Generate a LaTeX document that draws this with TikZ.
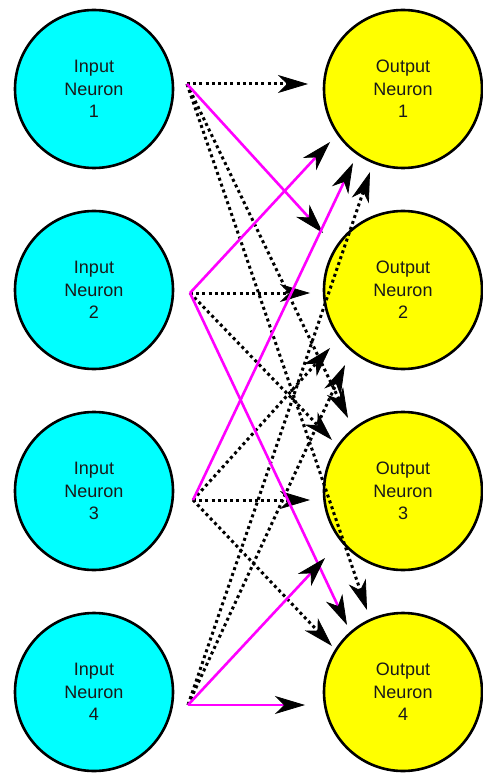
\documentclass[tikz,border=0pt]{standalone}
\usepackage{fontspec}
\setmainfont{Liberation Sans}
\usetikzlibrary{arrows.meta}
\definecolor{incol}{RGB}{0,255,255}
\definecolor{outcol}{RGB}{255,255,0}
\definecolor{magcol}{RGB}{255,0,255}
\definecolor{txtcol}{RGB}{25,25,25}
\begin{document}
\begin{tikzpicture}[x=1pt,y=-1pt,
  neuron/.style={circle, draw=black, line width=2.6pt, minimum size=158pt, inner sep=0pt, align=center, text=txtcol, font=\fontsize{18}{22.5}\selectfont},
  inneuron/.style={neuron, fill=incol},
  outneuron/.style={neuron, fill=outcol},
  arrowtip/.style={-{Stealth[length=30pt,width=18pt,inset=9pt,color=black,line width=0.8pt]}},
  dotline/.style={arrowtip, line width=3pt, dash pattern=on 3pt off 3.2pt},
  magline/.style={arrowtip, draw=magcol, line width=2.6pt}]
\useasboundingbox (0,0) rectangle (482,775);
% neurons
\node[inneuron] (in1) at (94,89) {Input\\Neuron\\1};
\node[inneuron] (in2) at (94,290) {Input\\Neuron\\2};
\node[inneuron] (in3) at (94,491) {Input\\Neuron\\3};
\node[inneuron] (in4) at (94,692) {Input\\Neuron\\4};
\node[outneuron] (out1) at (403,89) {Output\\Neuron\\1};
\node[outneuron] (out2) at (403,290) {Output\\Neuron\\2};
\node[outneuron] (out3) at (403,491) {Output\\Neuron\\3};
\node[outneuron] (out4) at (403,692) {Output\\Neuron\\4};
% sources
\coordinate (s1) at (187,84);
\coordinate (s2) at (190,293);
\coordinate (s3) at (193,500);
\coordinate (s4) at (188,705);
% tips
\coordinate (t11) at (308,84);
\coordinate (t12) at (323,233);
\coordinate (t13) at (348,418);
\coordinate (t14) at (367,610);
\coordinate (t21) at (330,142);
\coordinate (t22) at (310,293);
\coordinate (t23) at (332,440);
\coordinate (t24) at (347,625);
\coordinate (t31) at (353,163);
\coordinate (t32) at (330,348);
\coordinate (t33) at (310,500);
\coordinate (t34) at (332,646);
\coordinate (t41) at (370,172);
\coordinate (t42) at (345,365);
\coordinate (t43) at (325,558);
\coordinate (t44) at (305,705);
% dotted connections
\draw[dotline] (s1) -- (t11);
\draw[dotline] (s1) -- (t13);
\draw[dotline] (s1) -- (t14);
\draw[dotline] (s2) -- (t22);
\draw[dotline] (s2) -- (t23);
\draw[dotline] (s3) -- (t32);
\draw[dotline] (s3) -- (t33);
\draw[dotline] (s3) -- (t34);
\draw[dotline] (s4) -- (t41);
\draw[dotline] (s4) -- (t42);
% magenta connections
\draw[magline] (s1) -- (t12);
\draw[magline] (s2) -- (t21);
\draw[magline] (s2) -- (t24);
\draw[magline] (s3) -- (t31);
\draw[magline] (s4) -- (t43);
\draw[magline] (s4) -- (t44);
\end{tikzpicture}
\end{document}
